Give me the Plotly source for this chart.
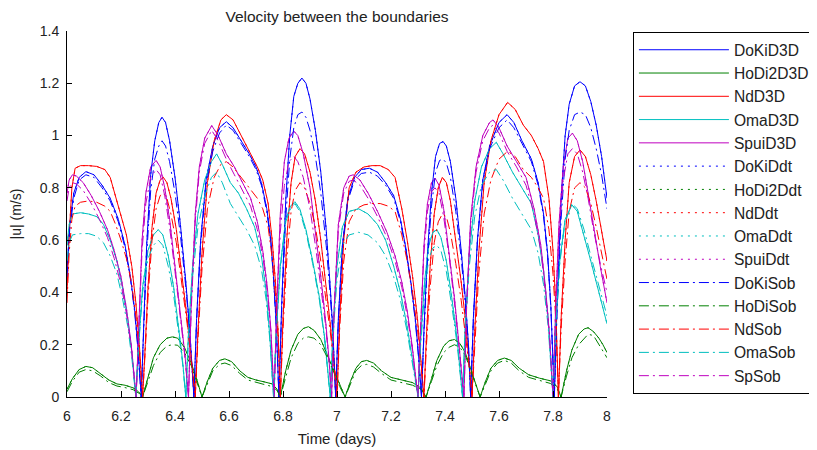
import plotly.graph_objects as go

# ---------------- data ----------------
# DoKi (blue)
t_doki = [6.0, 6.01, 6.025, 6.045, 6.07, 6.1, 6.13, 6.16, 6.19, 6.215, 6.235, 6.25, 6.262, 6.275,
          6.285, 6.295, 6.31, 6.325, 6.34, 6.352, 6.365, 6.38, 6.4, 6.42, 6.44, 6.455, 6.47,
          6.48, 6.495, 6.515, 6.54, 6.565, 6.59, 6.615, 6.645, 6.675, 6.7, 6.72, 6.74, 6.755, 6.765, 6.775, 6.785,
          6.795, 6.81, 6.825, 6.84, 6.855, 6.87, 6.885, 6.9, 6.92, 6.94, 6.96, 6.975, 6.985, 6.995,
          7.005, 7.02, 7.04, 7.065, 7.09, 7.12, 7.15, 7.18, 7.21, 7.235, 7.255, 7.275, 7.29, 7.302, 7.313,
          7.323, 7.335, 7.35, 7.365, 7.38, 7.393, 7.405, 7.42, 7.44, 7.46, 7.475, 7.487, 7.495,
          7.505, 7.52, 7.54, 7.565, 7.6, 7.63, 7.655, 7.685, 7.72, 7.745, 7.765, 7.78, 7.792, 7.805,
          7.815, 7.83, 7.845, 7.86, 7.88, 7.9, 7.92, 7.94, 7.96, 7.98, 8.0]
doki_d3d = [0.48, 0.66, 0.78, 0.84, 0.862, 0.85, 0.81, 0.76, 0.68, 0.58, 0.46, 0.34, 0.2, 0.0,
            0.3, 0.58, 0.85, 0.98, 1.05, 1.07, 1.05, 0.98, 0.84, 0.66, 0.44, 0.25, 0.0,
            0.3, 0.6, 0.83, 0.96, 1.03, 1.053, 1.03, 0.98, 0.93, 0.88, 0.82, 0.72, 0.6, 0.46, 0.28, 0.0,
            0.35, 0.75, 1.0, 1.15, 1.2, 1.22, 1.2, 1.14, 1.02, 0.86, 0.64, 0.42, 0.25, 0.0,
            0.3, 0.58, 0.76, 0.84, 0.87, 0.875, 0.86, 0.82, 0.77, 0.68, 0.57, 0.43, 0.3, 0.16, 0.0,
            0.28, 0.55, 0.78, 0.92, 0.97, 0.977, 0.96, 0.9, 0.76, 0.56, 0.38, 0.2, 0.0,
            0.3, 0.6, 0.83, 0.96, 1.05, 1.08, 1.05, 0.98, 0.91, 0.82, 0.7, 0.55, 0.35, 0.0,
            0.35, 0.75, 1.0, 1.12, 1.19, 1.206, 1.19, 1.13, 1.04, 0.92, 0.76]
doki_sob = [0.46, 0.64, 0.76, 0.83, 0.85, 0.84, 0.8, 0.75, 0.67, 0.57, 0.45, 0.33, 0.19, 0.0,
            0.28, 0.54, 0.79, 0.91, 0.96, 0.98, 0.96, 0.9, 0.78, 0.62, 0.42, 0.24, 0.0,
            0.29, 0.58, 0.81, 0.94, 1.01, 1.04, 1.02, 0.97, 0.92, 0.87, 0.81, 0.71, 0.59, 0.45, 0.27, 0.0,
            0.32, 0.68, 0.91, 1.03, 1.08, 1.09, 1.07, 1.02, 0.92, 0.78, 0.58, 0.39, 0.23, 0.0,
            0.29, 0.57, 0.75, 0.83, 0.855, 0.86, 0.845, 0.81, 0.76, 0.67, 0.56, 0.42, 0.29, 0.15, 0.0,
            0.26, 0.52, 0.73, 0.86, 0.905, 0.91, 0.895, 0.84, 0.71, 0.53, 0.36, 0.19, 0.0,
            0.29, 0.59, 0.82, 0.95, 1.03, 1.06, 1.03, 0.97, 0.9, 0.81, 0.69, 0.54, 0.34, 0.0,
            0.32, 0.68, 0.91, 1.02, 1.08, 1.09, 1.08, 1.03, 0.95, 0.85, 0.72]

# HoDi (green)
t_hodi = [6.0, 6.02, 6.045, 6.07, 6.095, 6.125, 6.155, 6.185, 6.215, 6.245, 6.265, 6.28,
          6.3, 6.32, 6.345, 6.37, 6.39, 6.41, 6.435, 6.46, 6.48, 6.5,
          6.52, 6.54, 6.565, 6.585, 6.61, 6.64, 6.67, 6.7, 6.73, 6.76, 6.778, 6.79,
          6.81, 6.83, 6.855, 6.875, 6.894, 6.915, 6.94, 6.965, 6.99, 7.01, 7.03,
          7.05, 7.07, 7.09, 7.11, 7.135, 7.165, 7.2, 7.24, 7.28, 7.31, 7.33,
          7.35, 7.37, 7.395, 7.415, 7.435, 7.455, 7.475, 7.495, 7.515, 7.53,
          7.55, 7.57, 7.595, 7.62, 7.645, 7.675, 7.71, 7.75, 7.79, 7.815, 7.83,
          7.85, 7.87, 7.895, 7.915, 7.93, 7.95, 7.97, 7.985, 8.0]
hodi_d3d = [0.03, 0.07, 0.105, 0.117, 0.112, 0.09, 0.065, 0.05, 0.045, 0.035, 0.02, 0.0,
            0.08, 0.15, 0.2, 0.225, 0.23, 0.225, 0.19, 0.13, 0.07, 0.0,
            0.06, 0.11, 0.14, 0.146, 0.135, 0.1, 0.075, 0.065, 0.058, 0.05, 0.03, 0.0,
            0.1, 0.18, 0.24, 0.262, 0.269, 0.255, 0.22, 0.16, 0.1, 0.05, 0.0,
            0.06, 0.11, 0.135, 0.14, 0.13, 0.1, 0.075, 0.065, 0.055, 0.035, 0.0,
            0.07, 0.14, 0.195, 0.215, 0.22, 0.205, 0.17, 0.11, 0.05, 0.0,
            0.06, 0.11, 0.14, 0.149, 0.14, 0.11, 0.085, 0.072, 0.062, 0.04, 0.0,
            0.1, 0.18, 0.24, 0.26, 0.265, 0.25, 0.225, 0.2, 0.17]
hodi_sob = [0.02, 0.06, 0.095, 0.105, 0.1, 0.08, 0.055, 0.042, 0.036, 0.028, 0.015, 0.0,
            0.06, 0.12, 0.17, 0.195, 0.2, 0.198, 0.17, 0.12, 0.06, 0.0,
            0.05, 0.1, 0.125, 0.13, 0.12, 0.09, 0.065, 0.055, 0.048, 0.04, 0.025, 0.0,
            0.08, 0.15, 0.205, 0.225, 0.23, 0.225, 0.2, 0.15, 0.09, 0.04, 0.0,
            0.05, 0.1, 0.12, 0.125, 0.115, 0.09, 0.065, 0.055, 0.045, 0.03, 0.0,
            0.06, 0.12, 0.17, 0.19, 0.2, 0.19, 0.16, 0.1, 0.045, 0.0,
            0.05, 0.1, 0.13, 0.14, 0.13, 0.1, 0.075, 0.062, 0.052, 0.032, 0.0,
            0.08, 0.15, 0.2, 0.225, 0.24, 0.235, 0.2, 0.175, 0.15]

# Nd (red)
t_nd = [6.0, 6.008, 6.018, 6.03, 6.05, 6.08, 6.11, 6.14, 6.16, 6.18, 6.2, 6.22, 6.24, 6.255, 6.268, 6.28,
        6.29, 6.3, 6.315, 6.33, 6.345, 6.357, 6.37, 6.385, 6.405, 6.425, 6.445, 6.46, 6.475,
        6.485, 6.5, 6.52, 6.545, 6.57, 6.59, 6.615, 6.645, 6.675, 6.705, 6.725, 6.745, 6.76, 6.772, 6.782, 6.79,
        6.8, 6.815, 6.83, 6.845, 6.863, 6.88, 6.9, 6.92, 6.94, 6.96, 6.975, 6.99, 7.0,
        7.01, 7.025, 7.045, 7.07, 7.1, 7.13, 7.16, 7.19, 7.215, 7.24, 7.26, 7.28, 7.298, 7.31, 7.322,
        7.332, 7.345, 7.36, 7.375, 7.39, 7.405, 7.42, 7.44, 7.46, 7.475, 7.488, 7.5,
        7.51, 7.525, 7.545, 7.57, 7.6, 7.632, 7.66, 7.69, 7.72, 7.745, 7.765, 7.785, 7.8, 7.81, 7.82,
        7.83, 7.845, 7.86, 7.88, 7.9, 7.92, 7.94, 7.96, 7.98, 8.0]
nd_d3d = [0.40, 0.62, 0.8, 0.875, 0.885, 0.885, 0.882, 0.87, 0.84, 0.77, 0.7, 0.62, 0.5, 0.36, 0.2, 0.0,
          0.2, 0.42, 0.65, 0.78, 0.83, 0.84, 0.82, 0.76, 0.64, 0.48, 0.3, 0.15, 0.0,
          0.25, 0.55, 0.82, 0.98, 1.06, 1.08, 1.06, 1.0, 0.94, 0.88, 0.83, 0.74, 0.6, 0.44, 0.25, 0.0,
          0.3, 0.62, 0.82, 0.92, 0.95, 0.93, 0.86, 0.75, 0.6, 0.42, 0.28, 0.12, 0.0,
          0.3, 0.6, 0.8, 0.86, 0.88, 0.885, 0.885, 0.87, 0.84, 0.72, 0.6, 0.46, 0.3, 0.16, 0.0,
          0.25, 0.5, 0.7, 0.8, 0.84, 0.82, 0.75, 0.6, 0.44, 0.3, 0.15, 0.0,
          0.25, 0.55, 0.82, 0.98, 1.08, 1.127, 1.1, 1.04, 1.0, 0.95, 0.9, 0.76, 0.56, 0.36, 0.0,
          0.3, 0.6, 0.82, 0.92, 0.945, 0.92, 0.85, 0.75, 0.64, 0.52]
nd_sob = [0.36, 0.55, 0.68, 0.73, 0.745, 0.75, 0.745, 0.73, 0.71, 0.66, 0.6, 0.53, 0.43, 0.31, 0.17, 0.0,
          0.18, 0.38, 0.6, 0.72, 0.77, 0.78, 0.76, 0.7, 0.59, 0.44, 0.28, 0.14, 0.0,
          0.22, 0.49, 0.72, 0.84, 0.89, 0.9, 0.88, 0.84, 0.8, 0.76, 0.72, 0.65, 0.53, 0.39, 0.22, 0.0,
          0.26, 0.54, 0.71, 0.79, 0.82, 0.8, 0.74, 0.65, 0.52, 0.37, 0.25, 0.11, 0.0,
          0.26, 0.52, 0.67, 0.72, 0.735, 0.74, 0.74, 0.73, 0.71, 0.62, 0.52, 0.4, 0.26, 0.14, 0.0,
          0.21, 0.42, 0.59, 0.67, 0.7, 0.69, 0.63, 0.51, 0.37, 0.25, 0.13, 0.0,
          0.21, 0.47, 0.7, 0.83, 0.91, 0.94, 0.92, 0.87, 0.84, 0.8, 0.76, 0.64, 0.47, 0.3, 0.0,
          0.26, 0.52, 0.71, 0.8, 0.82, 0.8, 0.74, 0.65, 0.55, 0.45]

# Oma (cyan)
t_oma = [6.0, 6.008, 6.02, 6.05, 6.08, 6.11, 6.135, 6.16, 6.185, 6.205, 6.225, 6.24, 6.255,
         6.265, 6.28, 6.3, 6.32, 6.338, 6.355, 6.375, 6.395, 6.412, 6.428, 6.44,
         6.45, 6.465, 6.485, 6.51, 6.535, 6.554, 6.575, 6.605, 6.635, 6.665, 6.695, 6.72, 6.738, 6.752, 6.765,
         6.775, 6.79, 6.81, 6.828, 6.844, 6.862, 6.885, 6.91, 6.935, 6.955, 6.975,
         6.985, 7.0, 7.02, 7.045, 7.08, 7.115, 7.15, 7.18, 7.21, 7.235, 7.258, 7.28, 7.3,
         7.31, 7.325, 7.34, 7.355, 7.37, 7.385, 7.405, 7.425, 7.445, 7.465,
         7.475, 7.49, 7.51, 7.535, 7.565, 7.59, 7.615, 7.65, 7.685, 7.72, 7.745, 7.765, 7.782, 7.8,
         7.81, 7.825, 7.845, 7.87, 7.89, 7.915, 7.94, 7.965, 8.0]
oma_d3d = [0.58, 0.66, 0.70, 0.705, 0.7, 0.69, 0.66, 0.6, 0.52, 0.42, 0.3, 0.17, 0.0,
           0.2, 0.42, 0.56, 0.62, 0.64, 0.62, 0.54, 0.42, 0.28, 0.14, 0.0,
           0.25, 0.5, 0.7, 0.83, 0.9, 0.93, 0.89, 0.82, 0.78, 0.72, 0.65, 0.54, 0.4, 0.22, 0.0,
           0.25, 0.5, 0.68, 0.73, 0.747, 0.72, 0.64, 0.52, 0.38, 0.22, 0.0,
           0.25, 0.5, 0.65, 0.71, 0.72, 0.7, 0.66, 0.6, 0.5, 0.4, 0.28, 0.14, 0.0,
           0.22, 0.45, 0.58, 0.63, 0.64, 0.61, 0.52, 0.38, 0.22, 0.0,
           0.28, 0.55, 0.75, 0.88, 0.95, 0.974, 0.93, 0.86, 0.8, 0.74, 0.62, 0.48, 0.3, 0.0,
           0.28, 0.52, 0.68, 0.735, 0.71, 0.62, 0.52, 0.42, 0.28]
oma_sob = [0.52, 0.59, 0.62, 0.625, 0.625, 0.615, 0.59, 0.54, 0.47, 0.38, 0.27, 0.15, 0.0,
           0.19, 0.4, 0.53, 0.58, 0.6, 0.58, 0.5, 0.39, 0.26, 0.13, 0.0,
           0.23, 0.46, 0.65, 0.77, 0.84, 0.86, 0.82, 0.74, 0.69, 0.64, 0.58, 0.49, 0.37, 0.21, 0.0,
           0.24, 0.49, 0.67, 0.72, 0.74, 0.71, 0.63, 0.51, 0.37, 0.21, 0.0,
           0.23, 0.45, 0.58, 0.62, 0.63, 0.62, 0.59, 0.54, 0.46, 0.37, 0.26, 0.13, 0.0,
           0.2, 0.41, 0.53, 0.57, 0.58, 0.56, 0.48, 0.35, 0.2, 0.0,
           0.26, 0.5, 0.69, 0.81, 0.86, 0.87, 0.83, 0.76, 0.7, 0.64, 0.55, 0.43, 0.27, 0.0,
           0.27, 0.51, 0.67, 0.74, 0.72, 0.64, 0.54, 0.44, 0.31]

# Spui (magenta)
t_spui = [6.0, 6.008, 6.02, 6.035, 6.06, 6.09, 6.12, 6.15, 6.175, 6.2, 6.22, 6.238, 6.256,
          6.266, 6.278, 6.292, 6.31, 6.33, 6.345, 6.362, 6.38, 6.4, 6.42, 6.437, 6.45,
          6.46, 6.475, 6.49, 6.51, 6.536, 6.56, 6.59, 6.62, 6.65, 6.68, 6.705, 6.725, 6.742, 6.755, 6.767,
          6.777, 6.79, 6.805, 6.822, 6.84, 6.855, 6.875, 6.9, 6.92, 6.94, 6.957, 6.97, 6.98,
          6.99, 7.005, 7.025, 7.045, 7.06, 7.085, 7.115, 7.15, 7.185, 7.215, 7.24, 7.26, 7.278, 7.3,
          7.31, 7.322, 7.335, 7.35, 7.363, 7.378, 7.395, 7.415, 7.435, 7.452, 7.47,
          7.48, 7.495, 7.515, 7.54, 7.565, 7.578, 7.6, 7.63, 7.665, 7.7, 7.73, 7.755, 7.772, 7.787, 7.8,
          7.81, 7.822, 7.838, 7.855, 7.872, 7.89, 7.91, 7.93, 7.95, 7.975, 8.0]
spui_d3d = [0.78, 0.83, 0.85, 0.845, 0.82, 0.77, 0.71, 0.64, 0.56, 0.46, 0.34, 0.2, 0.0,
            0.3, 0.6, 0.78, 0.88, 0.905, 0.88, 0.8, 0.68, 0.5, 0.32, 0.16, 0.0,
            0.35, 0.7, 0.88, 0.99, 1.038, 1.0, 0.93, 0.88, 0.82, 0.76, 0.67, 0.56, 0.42, 0.26, 0.0,
            0.35, 0.7, 0.9, 0.99, 1.017, 1.0, 0.93, 0.8, 0.64, 0.46, 0.3, 0.15, 0.0,
            0.35, 0.66, 0.8, 0.845, 0.85, 0.83, 0.78, 0.71, 0.63, 0.54, 0.44, 0.33, 0.2, 0.0,
            0.3, 0.58, 0.74, 0.82, 0.837, 0.81, 0.72, 0.56, 0.38, 0.2, 0.0,
            0.35, 0.68, 0.88, 1.0, 1.05, 1.06, 1.03, 0.96, 0.9, 0.84, 0.72, 0.58, 0.42, 0.24, 0.0,
            0.35, 0.66, 0.88, 0.99, 1.009, 0.98, 0.9, 0.78, 0.65, 0.5, 0.36]
spui_sob = [0.75, 0.8, 0.82, 0.815, 0.79, 0.74, 0.68, 0.61, 0.53, 0.43, 0.32, 0.19, 0.0,
            0.28, 0.56, 0.74, 0.84, 0.87, 0.85, 0.77, 0.65, 0.48, 0.3, 0.15, 0.0,
            0.33, 0.67, 0.86, 0.97, 1.02, 0.98, 0.91, 0.85, 0.79, 0.73, 0.64, 0.54, 0.4, 0.25, 0.0,
            0.32, 0.63, 0.81, 0.9, 0.92, 0.9, 0.84, 0.72, 0.58, 0.42, 0.28, 0.14, 0.0,
            0.34, 0.64, 0.78, 0.825, 0.83, 0.81, 0.76, 0.69, 0.61, 0.52, 0.42, 0.31, 0.19, 0.0,
            0.28, 0.55, 0.71, 0.785, 0.8, 0.78, 0.69, 0.54, 0.36, 0.19, 0.0,
            0.34, 0.66, 0.86, 0.98, 1.03, 1.04, 1.01, 0.94, 0.88, 0.81, 0.7, 0.56, 0.4, 0.23, 0.0,
            0.33, 0.62, 0.83, 0.93, 0.95, 0.93, 0.86, 0.76, 0.64, 0.51, 0.4]

# The dotted "Ddt" runs are not distinguishable in the picture: they lie on the solid D3D lines.
doki_ddt = list(doki_d3d)
hodi_ddt = list(hodi_d3d)
nd_ddt = list(nd_d3d)
oma_ddt = list(oma_d3d)
spui_ddt = list(spui_d3d)

d3d_names = ["DoKiD3D", "HoDi2D3D", "NdD3D", "OmaD3D", "SpuiD3D"]
ddt_names = ["DoKiDdt", "HoDi2Ddt", "NdDdt", "OmaDdt", "SpuiDdt"]
sob_names = ["DoKiSob", "HoDiSob", "NdSob", "OmaSob", "SpSob"]

times = [t_doki, t_hodi, t_nd, t_oma, t_spui]
d3d_vals = [doki_d3d, hodi_d3d, nd_d3d, oma_d3d, spui_d3d]
ddt_vals = [doki_ddt, hodi_ddt, nd_ddt, oma_ddt, spui_ddt]
sob_vals = [doki_sob, hodi_sob, nd_sob, oma_sob, spui_sob]

colors = ["#0000ff", "#008000", "#ff0000", "#00bfbf", "#bf00bf"]

x_ticks = [6, 6.2, 6.4, 6.6, 6.8, 7, 7.2, 7.4, 7.6, 7.8, 8]
y_ticks = [0, 0.2, 0.4, 0.6, 0.8, 1, 1.2, 1.4]

FONT = "Liberation Sans, Arial, sans-serif"

# the page body adds an 8px margin, so the figure is 8px smaller and margins are shifted
W, H = 809, 442

fig = go.Figure()
for names, vals, dash in [(d3d_names, d3d_vals, "solid"),
                          (ddt_names, ddt_vals, "2px,5px"),
                          (sob_names, sob_vals, "10px,4px,2px,4px")]:
    for name, t, v, c in zip(names, times, vals, colors):
        fig.add_trace(go.Scatter(x=t, y=v, mode="lines", name=name,
                                 line=dict(color=c, width=1, dash=dash)))

fig.update_layout(
    width=W, height=H,
    margin=dict(l=59, r=210, t=23, b=53, autoexpand=False),
    paper_bgcolor="white", plot_bgcolor="white",
    font=dict(family=FONT, size=14, color="#222"),
    title=dict(text="Velocity between the boundaries", x=0.5, xref="paper",
               y=1 - 3 / H, yref="container", yanchor="top", xanchor="center",
               pad=dict(t=0, b=0, l=0, r=0),
               font=dict(family=FONT, size=15.5, color="#222")),
    showlegend=True,
    legend=dict(x=1.048, xanchor="left", y=0.997, yanchor="top",
                bordercolor="#000", borderwidth=1, bgcolor="white",
                font=dict(family=FONT, size=15.6, color="#222"),
                traceorder="normal", itemwidth=90),
)
fig.update_xaxes(range=[6, 8], tickvals=x_ticks, ticktext=[f"{v:g}" for v in x_ticks],
                 ticks="inside", ticklen=6, tickcolor="#000", showline=True, linecolor="#000",
                 linewidth=1, mirror=False, showgrid=False, zeroline=False, automargin=False,
                 ticklabelstandoff=6,
                 title=dict(text="Time (days)", font=dict(family=FONT, size=15, color="#222"),
                            standoff=10))
fig.update_yaxes(range=[0, 1.4], tickvals=y_ticks, ticktext=[f"{v:g}" for v in y_ticks],
                 ticks="inside", ticklen=5, tickcolor="#000", showline=True, linecolor="#000",
                 linewidth=1, mirror=False, showgrid=False, zeroline=False, automargin=False,
                 ticklabelstandoff=4,
                 title=dict(text="|u| (m/s)", font=dict(family=FONT, size=14, color="#222"),
                            standoff=26))

fig.write_html("out.html")
